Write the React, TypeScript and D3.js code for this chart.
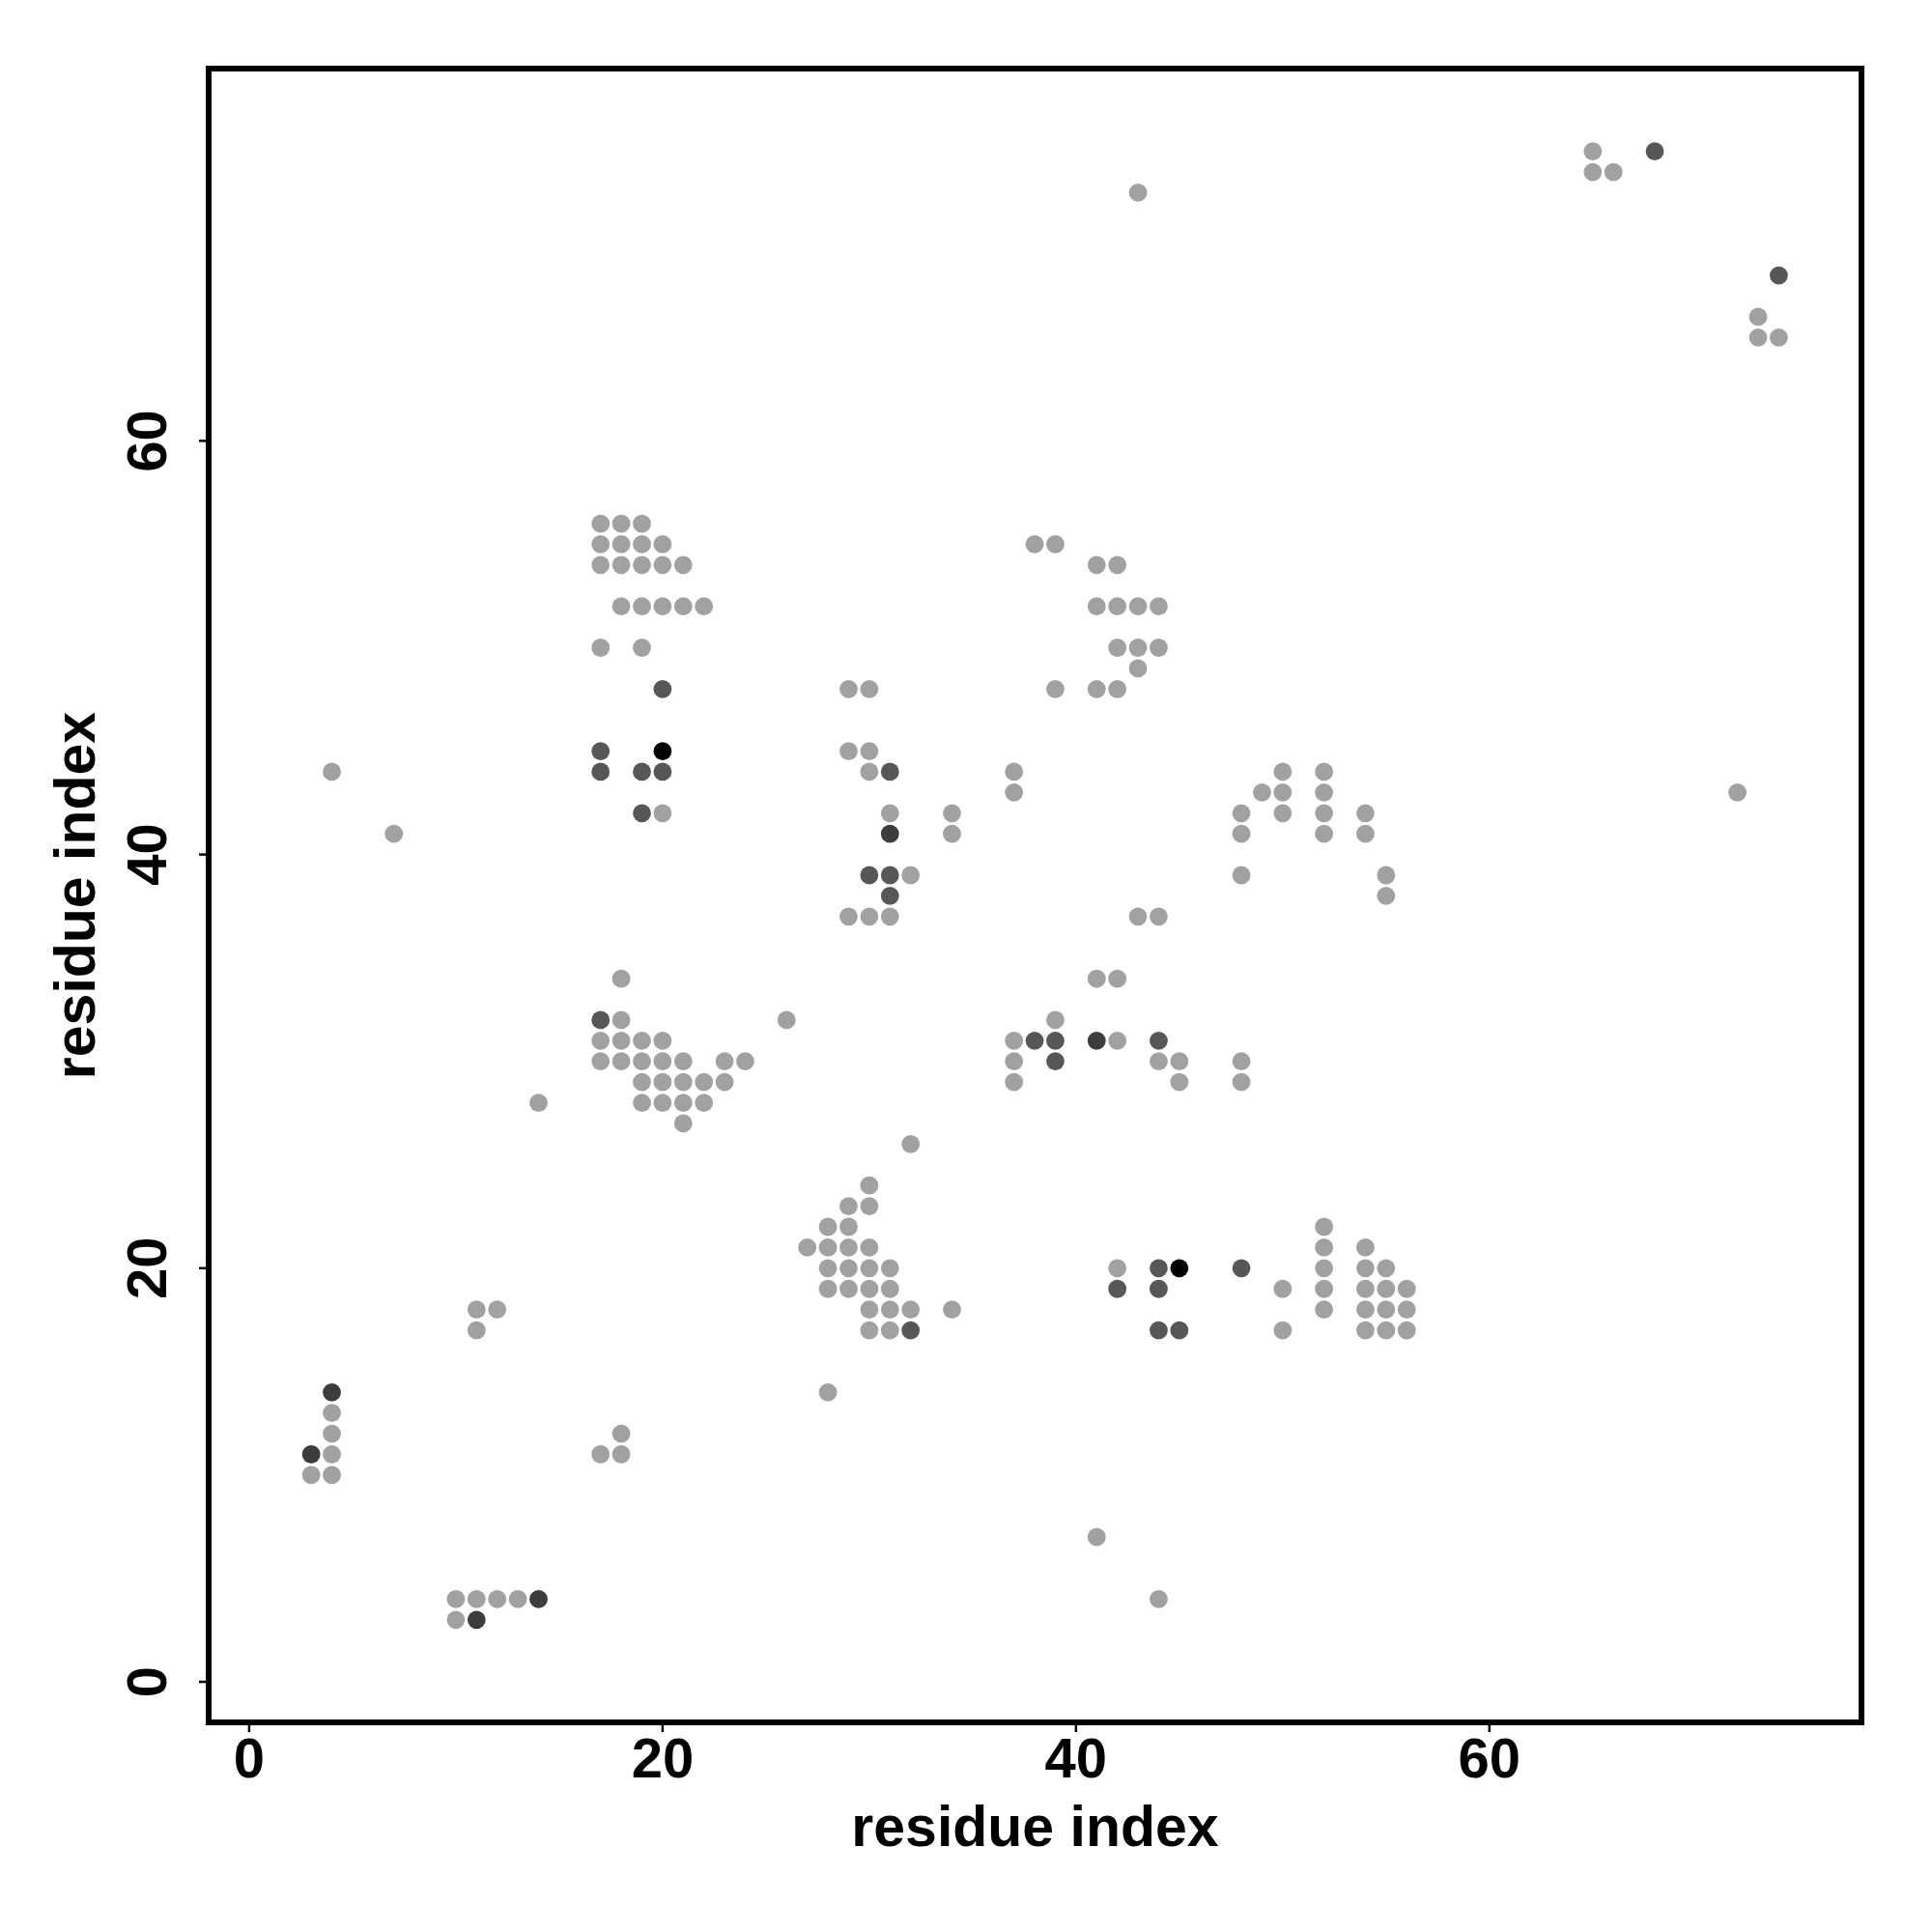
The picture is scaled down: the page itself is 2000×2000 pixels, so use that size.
import React from 'react';
import * as d3 from 'd3';

// contact pairs [i, j], grouped by shade
const lightContacts: [number, number][] = [
  [65, 74], [65, 73], [66, 73], [43, 72], [73, 66], [73, 65], [74, 65], [72, 43],
  [17, 56], [18, 56], [19, 56],
  [17, 55], [18, 55], [19, 55], [20, 55],
  [17, 54], [18, 54], [19, 54], [20, 54], [21, 54],
  [18, 52], [19, 52], [20, 52], [21, 52], [22, 52],
  [17, 50], [19, 50], [20, 42], [4, 44], [7, 41],
  [29, 48], [30, 48], [29, 45], [30, 45], [30, 44], [31, 42], [34, 42], [34, 41],
  [32, 39], [29, 37], [30, 37], [31, 37], [37, 44], [37, 43],
  [38, 55], [39, 55], [41, 54], [42, 54], [41, 52], [42, 52], [43, 52], [44, 52],
  [42, 50], [43, 50], [44, 50], [43, 49], [39, 48], [41, 48], [42, 48], [43, 37], [44, 37],
  [48, 42], [48, 41], [48, 39], [49, 43], [50, 44], [50, 43], [50, 42],
  [52, 44], [52, 43], [52, 42], [52, 41], [54, 42], [54, 41], [55, 39], [55, 38],
  [18, 34], [18, 32], [26, 32], [39, 32],
  [17, 31], [18, 31], [19, 31], [20, 31], [37, 31], [42, 31],
  [17, 30], [18, 30], [19, 30], [20, 30], [21, 30], [23, 30], [24, 30], [37, 30], [44, 30], [45, 30], [48, 30],
  [19, 29], [20, 29], [21, 29], [22, 29], [23, 29], [37, 29], [45, 29], [48, 29],
  [19, 28], [20, 28], [21, 28], [22, 28], [14, 28], [21, 27],
  [41, 34], [42, 34], [32, 26],
  [30, 24], [29, 23], [30, 23], [28, 22], [29, 22],
  [27, 21], [28, 21], [29, 21], [30, 21],
  [28, 20], [29, 20], [30, 20], [31, 20],
  [28, 19], [29, 19], [30, 19], [31, 19],
  [30, 18], [31, 18], [32, 18], [34, 18], [30, 17], [31, 17], [28, 14],
  [42, 20], [52, 22], [52, 21], [54, 21], [52, 20], [54, 20], [55, 20],
  [50, 19], [52, 19], [54, 19], [55, 19], [56, 19],
  [52, 18], [54, 18], [55, 18], [56, 18],
  [50, 17], [54, 17], [55, 17], [56, 17],
  [41, 7], [44, 4],
  [4, 13], [4, 12], [4, 11], [3, 10], [4, 10],
  [11, 18], [12, 18], [11, 17], [17, 11], [18, 11], [18, 12],
  [10, 4], [11, 4], [12, 4], [13, 4], [10, 3],
];

const darkContacts: [number, number][] = [
  [68, 74], [74, 68], [20, 48], [17, 45], [17, 44], [19, 44], [20, 44], [19, 42],
  [31, 44], [30, 39], [31, 39], [31, 38], [38, 31], [39, 31], [44, 31], [39, 30],
  [17, 32], [42, 19], [44, 20], [48, 20], [44, 19], [44, 17], [45, 17], [32, 17],
];

const darkerContacts: [number, number][] = [
  [31, 41], [41, 31], [4, 14], [3, 11], [14, 4], [11, 3],
];

const blackContacts: [number, number][] = [[20, 45], [45, 20]];

const ticks = [0, 20, 40, 60];

const groups = [
  { pts: lightContacts, color: '#a1a1a1' },
  { pts: darkContacts, color: '#575757' },
  { pts: darkerContacts, color: '#3c3c3c' },
  { pts: blackContacts, color: '#000000' },
];

export default function App() {
  const W = 2000, H = 2000;
  const left = 216, right = 1927, top = 71, bottom = 1783;
  const x = d3.scaleLinear().domain([-1.96, 78]).range([left, right]);
  const y = d3.scaleLinear().domain([-1.96, 78]).range([bottom, top]);
  const font = "'Liberation Sans', Arial, Helvetica, sans-serif";

  return (
    <svg width={W} height={H} style={{ display: 'block', position: 'absolute', left: 0, top: 0, background: '#fff' }}>
      <rect x={0} y={0} width={W} height={H} fill="#fff" />
      {groups.map((g, gi) => (
        <g key={gi} fill={g.color}>
          {g.pts.map((d, i) => (
            <circle key={i} cx={x(d[0])} cy={y(d[1])} r={9.4} />
          ))}
        </g>
      ))}
      <rect x={left} y={top} width={right - left} height={bottom - top} fill="none" stroke="#000" strokeWidth={6} />
      {ticks.map((t) => (
        <g key={'x' + t}>
          <line x1={x(t)} x2={x(t)} y1={bottom} y2={bottom + 10} stroke="#000" strokeWidth={2.5} />
          <text x={x(t)} y={1840} textAnchor="middle" fontFamily={font} fontWeight="bold" fontSize={58}>{t}</text>
        </g>
      ))}
      {ticks.map((t) => (
        <g key={'y' + t}>
          <line x1={left - 10} x2={left} y1={y(t)} y2={y(t)} stroke="#000" strokeWidth={2.5} />
          <text transform={`translate(172,${y(t)}) rotate(-90)`} textAnchor="middle" fontFamily={font} fontWeight="bold" fontSize={58}>{t}</text>
        </g>
      ))}
      <text x={(left + right) / 2} y={1911} textAnchor="middle" fontFamily={font} fontWeight="bold" fontSize={59}>residue index</text>
      <text transform={`translate(98,${(top + bottom) / 2}) rotate(-90)`} textAnchor="middle" fontFamily={font} fontWeight="bold" fontSize={59}>residue index</text>
    </svg>
  );
}
